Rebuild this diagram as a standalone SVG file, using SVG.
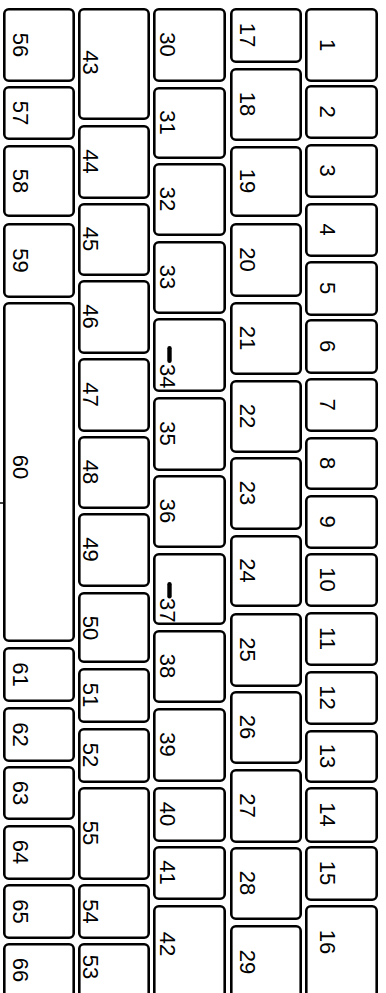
<svg xmlns="http://www.w3.org/2000/svg" width="386" height="993" viewBox="0 0 386 993">
<style>
.k{fill:#fff;stroke:#000;stroke-width:2.6}
.t{font-family:"Liberation Sans",Arial,sans-serif;font-size:22px;fill:#000;text-anchor:middle}
.ts{text-anchor:start}
.nub{fill:#000}
</style>
<rect width="386" height="993" fill="#fff"/>
<line x1="0" y1="503" x2="3" y2="503" stroke="#000" stroke-width="1.5"/>
<g id="colA">
<g id="k56"><rect class="k" x="4.3" y="9.3" width="69.4" height="71.4" rx="4.5"/><text class="t" transform="translate(13,45) rotate(90)">56</text></g>
<g id="k57"><rect class="k" x="4.3" y="87.3" width="69.4" height="51.4" rx="4.5"/><text class="t" transform="translate(13,113) rotate(90)">57</text></g>
<g id="k58"><rect class="k" x="4.3" y="146.3" width="69.4" height="69.4" rx="4.5"/><text class="t" transform="translate(13,181) rotate(90)">58</text></g>
<g id="k59"><rect class="k" x="4.3" y="224.3" width="69.4" height="72.4" rx="4.5"/><text class="t" transform="translate(13,260.5) rotate(90)">59</text></g>
<g id="k60"><rect class="k" x="4.3" y="303.3" width="69.4" height="337.4" rx="4.5"/><text class="t" transform="translate(13,467) rotate(90)">60</text></g>
<g id="k61"><rect class="k" x="4.3" y="648.3" width="69.4" height="52.4" rx="4.5"/><text class="t" transform="translate(13,674.5) rotate(90)">61</text></g>
<g id="k62"><rect class="k" x="4.3" y="708.3" width="69.4" height="52.4" rx="4.5"/><text class="t" transform="translate(13,734.5) rotate(90)">62</text></g>
<g id="k63"><rect class="k" x="4.3" y="767.3" width="69.4" height="51.4" rx="4.5"/><text class="t" transform="translate(13,793) rotate(90)">63</text></g>
<g id="k64"><rect class="k" x="4.3" y="826.3" width="69.4" height="52.4" rx="4.5"/><text class="t" transform="translate(13,852) rotate(90)">64</text></g>
<g id="k65"><rect class="k" x="4.3" y="885.3" width="69.4" height="52.4" rx="4.5"/><text class="t" transform="translate(13,911.5) rotate(90)">65</text></g>
<g id="k66"><rect class="k" x="4.3" y="944.3" width="69.4" height="60" rx="4.5"/><text class="t" transform="translate(13,970) rotate(90)">66</text></g>
</g>
<g id="colB">
<g id="k43"><rect class="k" x="79.3" y="9.3" width="69.4" height="109.4" rx="4.5"/><text class="t" transform="translate(83,62.5) rotate(90)">43</text></g>
<g id="k44"><rect class="k" x="79.3" y="126.3" width="69.4" height="71.4" rx="4.5"/><text class="t" transform="translate(83,161.5) rotate(90)">44</text></g>
<g id="k45"><rect class="k" x="79.3" y="204.3" width="69.4" height="70.4" rx="4.5"/><text class="t" transform="translate(83,239) rotate(90)">45</text></g>
<g id="k46"><rect class="k" x="79.3" y="281.3" width="69.4" height="71.4" rx="4.5"/><text class="t" transform="translate(83,316.5) rotate(90)">46</text></g>
<g id="k47"><rect class="k" x="79.3" y="359.3" width="69.4" height="71.4" rx="4.5"/><text class="t" transform="translate(83,394.5) rotate(90)">47</text></g>
<g id="k48"><rect class="k" x="79.3" y="437.3" width="69.4" height="70.4" rx="4.5"/><text class="t" transform="translate(83,472) rotate(90)">48</text></g>
<g id="k49"><rect class="k" x="79.3" y="514.3" width="69.4" height="71.4" rx="4.5"/><text class="t" transform="translate(83,549.5) rotate(90)">49</text></g>
<g id="k50"><rect class="k" x="79.3" y="593.3" width="69.4" height="68.4" rx="4.5"/><text class="t" transform="translate(83,628) rotate(90)">50</text></g>
<g id="k51"><rect class="k" x="79.3" y="669.3" width="69.4" height="52.4" rx="4.5"/><text class="t" transform="translate(83,695) rotate(90)">51</text></g>
<g id="k52"><rect class="k" x="79.3" y="729.3" width="69.4" height="52.4" rx="4.5"/><text class="t" transform="translate(83,755) rotate(90)">52</text></g>
<g id="k55"><rect class="k" x="79.3" y="788.3" width="69.4" height="90.4" rx="4.5"/><text class="t" transform="translate(83,833) rotate(90)">55</text></g>
<g id="k54"><rect class="k" x="79.3" y="885.3" width="69.4" height="52.4" rx="4.5"/><text class="t" transform="translate(83,911.5) rotate(90)">54</text></g>
<g id="k53"><rect class="k" x="79.3" y="944.3" width="69.4" height="60" rx="4.5"/><text class="t" transform="translate(83,967) rotate(90)">53</text></g>
</g>
<g id="colC">
<g id="k30"><rect class="k" x="154.3" y="9.3" width="70.4" height="71.4" rx="4.5"/><text class="t" transform="translate(160,44.5) rotate(90)">30</text></g>
<g id="k31"><rect class="k" x="154.3" y="88.3" width="70.4" height="69.4" rx="4.5"/><text class="t" transform="translate(160,122.5) rotate(90)">31</text></g>
<g id="k32"><rect class="k" x="154.3" y="164.3" width="70.4" height="70.4" rx="4.5"/><text class="t" transform="translate(160,199) rotate(90)">32</text></g>
<g id="k33"><rect class="k" x="154.3" y="242.3" width="70.4" height="70.4" rx="4.5"/><text class="t" transform="translate(160,277) rotate(90)">33</text></g>
<g id="k34"><rect class="k" x="154.3" y="319.3" width="70.4" height="71.4" rx="4.5"/><rect class="nub" x="167.3" y="346" width="4.4" height="17" rx="2.2"/><text class="t ts" transform="translate(160,364) rotate(90)">34</text></g>
<g id="k35"><rect class="k" x="154.3" y="398.3" width="70.4" height="71.4" rx="4.5"/><text class="t" transform="translate(160,433.5) rotate(90)">35</text></g>
<g id="k36"><rect class="k" x="154.3" y="476.3" width="70.4" height="70.4" rx="4.5"/><text class="t" transform="translate(160,511) rotate(90)">36</text></g>
<g id="k37"><rect class="k" x="154.3" y="554.3" width="70.4" height="69.4" rx="4.5"/><rect class="nub" x="167.3" y="582" width="4.4" height="16.5" rx="2.2"/><text class="t ts" transform="translate(160,598) rotate(90)">37</text></g>
<g id="k38"><rect class="k" x="154.3" y="631.3" width="70.4" height="70.4" rx="4.5"/><text class="t" transform="translate(160,666) rotate(90)">38</text></g>
<g id="k39"><rect class="k" x="154.3" y="709.3" width="70.4" height="71.4" rx="4.5"/><text class="t" transform="translate(160,744.5) rotate(90)">39</text></g>
<g id="k40"><rect class="k" x="154.3" y="788.3" width="70.4" height="52.4" rx="4.5"/><text class="t" transform="translate(160,814) rotate(90)">40</text></g>
<g id="k41"><rect class="k" x="154.3" y="847.3" width="70.4" height="51.4" rx="4.5"/><text class="t" transform="translate(160,872.5) rotate(90)">41</text></g>
<g id="k42"><rect class="k" x="154.3" y="906.3" width="70.4" height="100" rx="4.5"/><text class="t" transform="translate(160,944) rotate(90)">42</text></g>
</g>
<g id="colD">
<g id="k17"><rect class="k" x="231.3" y="9.3" width="69.4" height="52.4" rx="4.5"/><text class="t" transform="translate(240,35) rotate(90)">17</text></g>
<g id="k18"><rect class="k" x="231.3" y="69.3" width="69.4" height="70.4" rx="4.5"/><text class="t" transform="translate(240,104) rotate(90)">18</text></g>
<g id="k19"><rect class="k" x="231.3" y="147.3" width="69.4" height="68.4" rx="4.5"/><text class="t" transform="translate(240,181) rotate(90)">19</text></g>
<g id="k20"><rect class="k" x="231.3" y="224.3" width="69.4" height="71.4" rx="4.5"/><text class="t" transform="translate(240,259.5) rotate(90)">20</text></g>
<g id="k21"><rect class="k" x="231.3" y="303.3" width="69.4" height="70.4" rx="4.5"/><text class="t" transform="translate(240,338) rotate(90)">21</text></g>
<g id="k22"><rect class="k" x="231.3" y="381.3" width="69.4" height="70.4" rx="4.5"/><text class="t" transform="translate(240,416) rotate(90)">22</text></g>
<g id="k23"><rect class="k" x="231.3" y="458.3" width="69.4" height="70.4" rx="4.5"/><text class="t" transform="translate(240,493) rotate(90)">23</text></g>
<g id="k24"><rect class="k" x="231.3" y="536.3" width="69.4" height="69.4" rx="4.5"/><text class="t" transform="translate(240,570.5) rotate(90)">24</text></g>
<g id="k25"><rect class="k" x="231.3" y="614.3" width="69.4" height="71.4" rx="4.5"/><text class="t" transform="translate(240,649.5) rotate(90)">25</text></g>
<g id="k26"><rect class="k" x="231.3" y="692.3" width="69.4" height="70.4" rx="4.5"/><text class="t" transform="translate(240,727) rotate(90)">26</text></g>
<g id="k27"><rect class="k" x="231.3" y="770.3" width="69.4" height="71.4" rx="4.5"/><text class="t" transform="translate(240,805.5) rotate(90)">27</text></g>
<g id="k28"><rect class="k" x="231.3" y="848.3" width="69.4" height="70.4" rx="4.5"/><text class="t" transform="translate(240,883) rotate(90)">28</text></g>
<g id="k29"><rect class="k" x="231.3" y="926.3" width="69.4" height="80" rx="4.5"/><text class="t" transform="translate(240,962) rotate(90)">29</text></g>
</g>
<g id="colE">
<g id="k1"><rect class="k" x="306.3" y="9.3" width="70.4" height="71.4" rx="4.5"/><text class="t" transform="translate(320,45) rotate(90)">1</text></g>
<g id="k2"><rect class="k" x="306.3" y="86.3" width="70.4" height="51.4" rx="4.5"/><text class="t" transform="translate(320,111.5) rotate(90)">2</text></g>
<g id="k3"><rect class="k" x="306.3" y="145.3" width="70.4" height="51.4" rx="4.5"/><text class="t" transform="translate(320,170.5) rotate(90)">3</text></g>
<g id="k4"><rect class="k" x="306.3" y="204.3" width="70.4" height="51.4" rx="4.5"/><text class="t" transform="translate(320,229.5) rotate(90)">4</text></g>
<g id="k5"><rect class="k" x="306.3" y="262.3" width="70.4" height="52.4" rx="4.5"/><text class="t" transform="translate(320,288) rotate(90)">5</text></g>
<g id="k6"><rect class="k" x="306.3" y="320.3" width="70.4" height="52.4" rx="4.5"/><text class="t" transform="translate(320,346) rotate(90)">6</text></g>
<g id="k7"><rect class="k" x="306.3" y="379.3" width="70.4" height="51.4" rx="4.5"/><text class="t" transform="translate(320,404.5) rotate(90)">7</text></g>
<g id="k8"><rect class="k" x="306.3" y="438.3" width="70.4" height="50.4" rx="4.5"/><text class="t" transform="translate(320,463) rotate(90)">8</text></g>
<g id="k9"><rect class="k" x="306.3" y="496.3" width="70.4" height="51.4" rx="4.5"/><text class="t" transform="translate(320,521.5) rotate(90)">9</text></g>
<g id="k10"><rect class="k" x="306.3" y="554.3" width="70.4" height="51.4" rx="4.5"/><text class="t" transform="translate(320,579.5) rotate(90)">10</text></g>
<g id="k11"><rect class="k" x="306.3" y="613.3" width="70.4" height="51.4" rx="4.5"/><text class="t" transform="translate(320,638.5) rotate(90)">11</text></g>
<g id="k12"><rect class="k" x="306.3" y="672.3" width="70.4" height="51.4" rx="4.5"/><text class="t" transform="translate(320,697.5) rotate(90)">12</text></g>
<g id="k13"><rect class="k" x="306.3" y="731.3" width="70.4" height="50.4" rx="4.5"/><text class="t" transform="translate(320,756) rotate(90)">13</text></g>
<g id="k14"><rect class="k" x="306.3" y="788.3" width="70.4" height="53.4" rx="4.5"/><text class="t" transform="translate(320,814.5) rotate(90)">14</text></g>
<g id="k15"><rect class="k" x="306.3" y="847.3" width="70.4" height="52.4" rx="4.5"/><text class="t" transform="translate(320,873) rotate(90)">15</text></g>
<g id="k16"><rect class="k" x="306.3" y="906.3" width="70.4" height="100" rx="4.5"/><text class="t" transform="translate(320,942) rotate(90)">16</text></g>
</g>
<g id="connectors"/>
</svg>
